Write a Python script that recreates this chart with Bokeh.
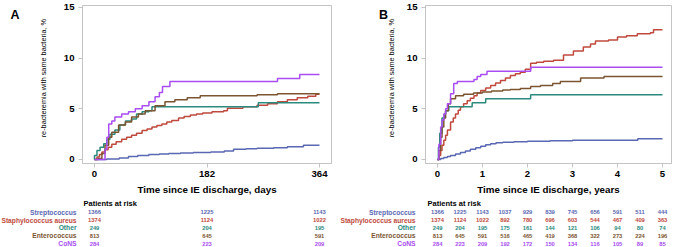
from bokeh.plotting import figure
from bokeh.models import Range1d, FixedTicker
from bokeh.layouts import column, row
from bokeh.embed import file_html
from bokeh.resources import INLINE
from bokeh.core.properties import value

# ---------------- data ----------------
groups = ["Streptococcus", "Staphylococcus aureus", "Other", "Enterococcus", "CoNS"]
colors = ["#5a67b2", "#c0493d", "#2b8a7e", "#7b5531", "#a94cf2"]

# Panel A: days since discharge
strep_a_x = [0, 20, 40, 55, 70, 88, 105, 120, 139, 160, 188, 210, 225, 245, 263, 290, 312, 338, 364]
strep_a_y = [0, 0.05, 0.15, 0.3, 0.4, 0.5, 0.55, 0.6, 0.65, 0.7, 0.75, 0.85, 1.0, 1.05, 1.1, 1.15, 1.25, 1.4, 1.4]
staph_a_x = [0, 4, 8, 12, 17, 22, 28, 35, 44, 52, 60, 68, 77, 85, 93, 101, 109, 117, 125, 136, 145, 155,
             165, 175, 190, 209, 215, 240, 263, 280, 296, 312, 328, 345, 358, 364]
staph_a_y = [0, 0.25, 0.5, 0.75, 0.95, 1.2, 1.5, 1.75, 2.0, 2.2, 2.4, 2.6, 2.85, 3.0, 3.2, 3.35, 3.5, 3.7,
             3.85, 4.1, 4.25, 4.4, 4.5, 4.6, 4.7, 4.8, 5.05, 5.2, 5.35, 5.5, 5.7, 5.9, 6.1, 6.25, 6.45, 6.45]
other_a_x = [0, 0, 4, 9, 15, 20, 25, 33, 41, 50, 60, 68, 77, 88, 93, 265, 364]
other_a_y = [0, 0.4, 0.9, 1.2, 1.55, 2.0, 2.5, 2.9, 3.4, 3.8, 4.0, 4.5, 4.7, 4.8, 5.2, 5.6, 5.6]
entero_a_x = [0, 6, 12, 17, 23, 28, 39, 50, 60, 71, 82, 98, 114, 130, 150, 171, 263, 296, 364]
entero_a_y = [0, 0.1, 0.6, 1.4, 2.2, 2.7, 3.4, 3.7, 4.2, 4.5, 4.8, 5.3, 5.7, 5.9, 6.1, 6.3, 6.4, 6.5, 6.5]
cons_a_x = [0, 17, 20, 23, 28, 33, 44, 55, 66, 77, 88, 98, 105, 110, 122, 296, 332, 364]
cons_a_y = [0, 1.0, 2.2, 3.5, 3.8, 4.2, 4.5, 4.7, 5.0, 5.3, 5.7, 6.2, 6.6, 7.2, 7.7, 8.0, 8.4, 8.4]

# Panel B: years since discharge
strep_b_x = [0, 0.07, 0.14, 0.22, 0.29, 0.4, 0.51, 0.62, 0.73, 0.85, 0.96, 1.07, 1.18, 1.3, 1.45, 1.7,
             2.0, 2.5, 3.0, 4.45, 5.0]
strep_b_y = [0, 0.1, 0.2, 0.3, 0.4, 0.55, 0.7, 0.85, 1.0, 1.15, 1.3, 1.45, 1.55, 1.65, 1.7, 1.75,
             1.8, 1.85, 1.9, 2.05, 2.05]
staph_b_x = [0, 0.03, 0.07, 0.1, 0.14, 0.18, 0.22, 0.29, 0.35, 0.4, 0.46, 0.51, 0.58, 0.66, 0.73, 0.81,
             0.88, 0.96, 1.07, 1.18, 1.29, 1.4, 1.51, 1.62, 1.73, 1.84, 1.95, 2.07, 2.2, 2.36, 2.58, 2.8,
             3.02, 3.24, 3.4, 3.51, 3.8, 4.0, 4.2, 4.44, 4.73, 4.8, 5.0]
staph_b_y = [0, 0.4, 0.9, 1.4, 1.9, 2.4, 2.9, 3.7, 4.1, 4.5, 4.85, 5.2, 5.5, 5.8, 6.05, 6.3,
             6.55, 6.8, 7.05, 7.3, 7.55, 7.8, 8.05, 8.3, 8.45, 8.6, 8.9, 9.5, 9.6, 9.7, 9.8, 10.3,
             10.7, 11.1, 11.4, 11.7, 11.8, 12.1, 12.2, 12.4, 12.5, 12.8, 12.8]
other_b_x = [0, 0.02, 0.05, 0.1, 0.15, 0.18, 0.25, 0.77, 1.07, 2.07, 5.0]
other_b_y = [0, 1.2, 2.6, 4.1, 4.5, 4.8, 5.2, 5.6, 6.0, 6.4, 6.4]
entero_b_x = [0, 0.03, 0.07, 0.1, 0.14, 0.18, 0.24, 0.29, 0.4, 0.58, 0.8, 1.0, 1.2, 1.45, 1.62, 1.84,
              2.07, 2.29, 2.56, 2.73, 3.18, 3.7, 5.0]
entero_b_y = [0, 0.9, 2.2, 3.2, 4.1, 4.8, 5.5, 6.0, 6.3, 6.45, 6.55, 6.65, 6.75, 6.85, 6.9, 7.0,
              7.2, 7.3, 7.5, 7.7, 8.05, 8.2, 8.2]
cons_b_x = [0, 0.03, 0.07, 0.1, 0.14, 0.18, 0.22, 0.29, 0.36, 0.44, 0.81, 0.88, 0.96, 1.1, 2.07, 5.0]
cons_b_y = [0, 1.5, 3.2, 3.9, 4.5, 5.0, 5.5, 6.5, 7.5, 7.7, 7.9, 8.2, 8.4, 8.7, 9.1, 9.1]

# Patients at risk
risk_a_times = [0, 182, 364]
risk_a_strep = [1366, 1225, 1143]
risk_a_staph = [1374, 1124, 1022]
risk_a_other = [249, 204, 195]
risk_a_entero = [813, 645, 591]
risk_a_cons = [284, 223, 209]

risk_b_times = [0, 0.5, 1, 1.5, 2, 2.5, 3, 3.5, 4, 4.5, 5]
risk_b_strep = [1366, 1225, 1143, 1037, 929, 839, 745, 656, 591, 511, 444]
risk_b_staph = [1374, 1124, 1022, 892, 780, 696, 603, 544, 467, 409, 363]
risk_b_other = [249, 204, 195, 175, 161, 144, 121, 106, 94, 80, 74]
risk_b_entero = [813, 645, 591, 516, 465, 419, 368, 322, 273, 224, 196]
risk_b_cons = [284, 223, 209, 192, 172, 150, 134, 116, 105, 89, 85]

a_ticks = [0, 182, 364]
b_ticks = [0, 1, 2, 3, 4, 5]
y_ticks = [0, 5, 10, 15]

# ---------------- styling ----------------
FONT = "Liberation Sans"
GRAY = "#c4c4c4"
PLOT_H = 198
TABLE_H = 49
BORDER_TOP = 5
BORDER_BOTTOM = 35
Y0, Y1 = -0.395, 15.197
YLABEL = "re-bacteremia with same bacteria, %"


def make_gutter(width, panel, panel_x, ylab_x):
    g = figure(width=width, height=PLOT_H, x_range=Range1d(0, width), y_range=Range1d(PLOT_H, 0),
               output_backend="svg", toolbar_location=None, x_axis_location=None,
               y_axis_location=None, min_border=0)
    g.grid.visible = False
    g.outline_line_color = None
    g.text(x=[panel_x], y=[12], text=[panel], text_font=value(FONT), text_font_style="bold",
           text_font_size="12.5px", text_align="center", text_baseline="middle", text_color="black")
    g.text(x=[ylab_x], y=[91], text=[YLABEL], angle=1.5708, text_font=value(FONT),
           text_font_size="7.3px", text_align="center", text_baseline="middle", text_color="black")
    return g


def make_plot(width, left, right, xr, ticks, xlabel, series):
    p = figure(width=width, height=PLOT_H, x_range=Range1d(*xr), y_range=Range1d(Y0, Y1),
               output_backend="svg", toolbar_location=None,
               min_border_left=left, min_border_right=right,
               min_border_top=BORDER_TOP, min_border_bottom=BORDER_BOTTOM)
    p.grid.visible = False
    p.outline_line_color = GRAY
    for ax in (p.xaxis[0], p.yaxis[0]):
        ax.axis_line_color = GRAY
        ax.major_tick_line_color = GRAY
        ax.minor_tick_line_color = None
        ax.major_tick_out = 4
        ax.major_tick_in = 0
        ax.major_label_text_font = FONT
        ax.major_label_text_font_style = "bold"
        ax.major_label_text_font_size = "9.6px"
        ax.major_label_text_color = "black"
    p.xaxis[0].ticker = FixedTicker(ticks=ticks)
    p.yaxis[0].ticker = FixedTicker(ticks=y_ticks)
    p.xaxis[0].major_label_standoff = 3
    p.yaxis[0].major_label_standoff = 4
    p.xaxis[0].axis_label = xlabel
    p.xaxis[0].axis_label_text_font = FONT
    p.xaxis[0].axis_label_text_font_style = "bold"
    p.xaxis[0].axis_label_text_font_size = "9.8px"
    p.xaxis[0].axis_label_standoff = 4
    p.xaxis[0].axis_label_text_color = "black"
    for (xs, ys), c in zip(series, colors):
        p.step(xs, ys, mode="after", line_color=c, line_width=1.5)
    return p


def make_table(width, frame_left, frame_w, xr, times, rows, name_px, head_px):
    scale = frame_w / (xr[1] - xr[0])
    tx0 = xr[0] - frame_left / scale
    tx1 = tx0 + width / scale
    t = figure(width=width, height=TABLE_H, x_range=Range1d(tx0, tx1), y_range=Range1d(TABLE_H, 0),
               output_backend="svg", toolbar_location=None, x_axis_location=None,
               y_axis_location=None, min_border=0)
    t.grid.visible = False
    t.outline_line_color = None
    t.text(x=[tx0 + head_px / scale], y=[5], text=["Patients at risk"], text_font=value(FONT),
           text_font_style="bold", text_font_size="7.5px", text_align="left",
           text_baseline="middle", text_color="black")
    row_y = [13.8, 21.6, 29.4, 37.2, 45.0]
    for name, vals, c, ry in zip(groups, rows, colors, row_y):
        t.text(x=[tx0 + name_px / scale], y=[ry], text=[name], text_font=value(FONT),
               text_font_style="bold", text_font_size="6.7px", text_align="right",
               text_baseline="middle", text_color=c)
        t.text(x=times, y=[ry] * len(times), text=[str(v) for v in vals], text_font=value(FONT),
               text_font_style="bold", text_font_size="5.8px", text_align="center",
               text_baseline="middle", text_color=c)
    return t


GA_W, GB_W = 60, 62
A_W, A_L, A_R = 278, 22, 7
B_W, B_L, B_R = 276, 25, 5
A_XR = (-19.4, 383.4)
B_XR = (-0.267, 5.2)

gA = make_gutter(GA_W, "A", 14.5, 43)
gB = make_gutter(GB_W, "B", 45, 53)
pA = make_plot(A_W, A_L, A_R, A_XR, a_ticks, "Time since IE discharge, days",
               [(strep_a_x, strep_a_y), (staph_a_x, staph_a_y), (other_a_x, other_a_y),
                (entero_a_x, entero_a_y), (cons_a_x, cons_a_y)])
pB = make_plot(B_W, B_L, B_R, B_XR, b_ticks, "Time since IE discharge, years",
               [(strep_b_x, strep_b_y), (staph_b_x, staph_b_y), (other_b_x, other_b_y),
                (entero_b_x, entero_b_y), (cons_b_x, cons_b_y)])
tA = make_table(GA_W + A_W, GA_W + A_L, A_W - A_L - A_R, A_XR, risk_a_times,
                [risk_a_strep, risk_a_staph, risk_a_other, risk_a_entero, risk_a_cons], 76, 83)
tB = make_table(GB_W + B_W, GB_W + B_L, B_W - B_L - B_R, B_XR, risk_b_times,
                [risk_b_strep, risk_b_staph, risk_b_other, risk_b_entero, risk_b_cons], 77, 89)

layout = column(row(gA, pA, gB, pB), row(tA, tB))
open("out.html", "w").write(file_html(layout, INLINE))
